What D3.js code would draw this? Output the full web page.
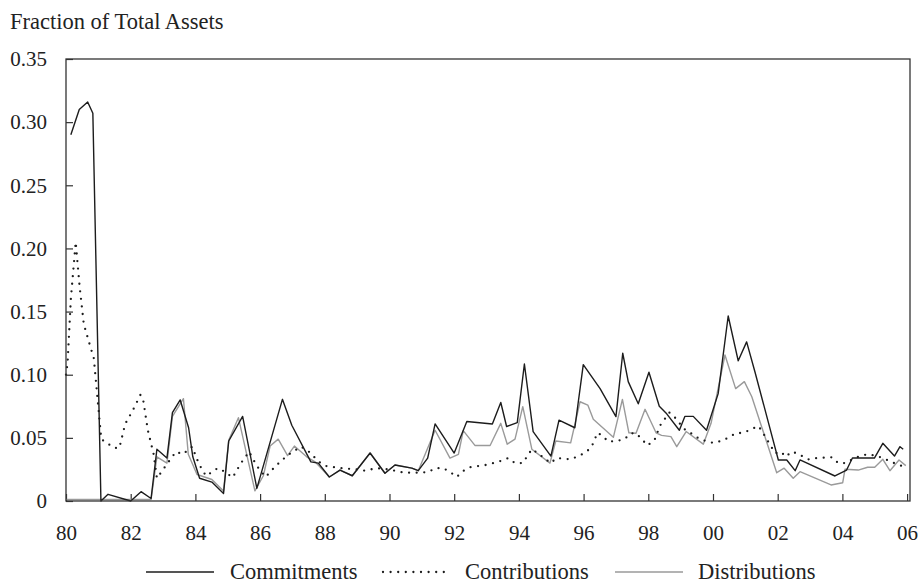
<!DOCTYPE html>
<html>
<head>
<meta charset="utf-8">
<script src="https://cdn.jsdelivr.net/npm/d3@7/dist/d3.min.js"></script>
<style>
  html, body { margin: 0; padding: 0; background: #fff; }
  svg { display: block; }
  text { font-family: "Liberation Serif", "DejaVu Serif", serif; fill: #222; }
</style>
</head>
<body>
<svg id="chart" width="921" height="585"></svg>
<script>
// Quarterly flows as a fraction of total assets (time in fractional years)
const commitmentYears = [1980.15,1980.41,1980.67,1980.83,1981.08,1981.3,1982.0,1982.32,1982.63,1982.81,1983.12,1983.29,1983.53,1983.79,1983.92,1984.13,1984.51,1984.87,1985.03,1985.46,1985.9,1986.69,1986.98,1987.57,1987.8,1988.14,1988.47,1988.85,1989.4,1989.86,1990.17,1990.69,1990.89,1991.18,1991.41,1992.0,1992.39,1993.18,1993.44,1993.62,1993.95,1994.17,1994.44,1994.99,1995.24,1995.73,1995.99,1996.51,1997.0,1997.21,1997.38,1997.69,1998.02,1998.34,1998.57,1998.96,1999.13,1999.39,1999.8,2000.16,2000.47,2000.78,2001.04,2001.3,2002.02,2002.28,2002.54,2002.69,2003.77,2004.13,2004.31,2004.99,2005.25,2005.61,2005.78,2005.88];
const commitmentValues = [0.290,0.310,0.316,0.307,0.000,0.0053,0.000,0.0074,0.002,0.041,0.034,0.070,0.080,0.058,0.035,0.018,0.015,0.006,0.0475,0.067,0.010,0.0805,0.060,0.031,0.030,0.019,0.0245,0.020,0.038,0.022,0.0285,0.026,0.024,0.034,0.061,0.038,0.063,0.061,0.078,0.059,0.062,0.1085,0.055,0.0356,0.064,0.058,0.108,0.089,0.0668,0.117,0.0945,0.077,0.102,0.075,0.069,0.056,0.067,0.067,0.056,0.085,0.1465,0.111,0.126,0.102,0.0325,0.0325,0.024,0.0325,0.0198,0.0245,0.034,0.034,0.0457,0.0356,0.043,0.041];

const contributionYears = [1980.0,1980.05,1980.15,1980.3,1980.42,1980.55,1980.72,1980.86,1981.09,1981.27,1981.5,1981.65,1981.83,1982.07,1982.3,1982.38,1982.53,1982.71,1982.81,1982.95,1983.1,1983.4,1983.61,1983.9,1984.05,1984.2,1984.33,1984.69,1984.92,1985.15,1985.41,1985.66,1985.9,1986.17,1986.48,1986.84,1987.26,1987.47,1987.82,1988.03,1988.5,1989.0,1989.24,1989.6,1989.96,1990.46,1990.97,1991.2,1991.43,1991.66,1991.87,1992.08,1992.28,1992.49,1992.97,1993.21,1993.47,1993.67,1993.88,1994.12,1994.4,1994.58,1994.98,1995.17,1995.6,1995.84,1996.07,1996.25,1996.43,1996.59,1996.76,1997.02,1997.26,1997.47,1997.62,1997.8,1997.97,1998.19,1998.36,1998.65,1998.8,1999.11,1999.32,1999.55,1999.75,2000.01,2000.25,2000.47,2000.7,2000.94,2001.2,2001.4,2001.52,2001.66,2001.92,2002.1,2002.25,2002.43,2002.59,2002.95,2003.2,2003.69,2003.87,2004.08,2004.31,2004.54,2004.78,2005.0,2005.26,2005.5,2005.75,2005.99];
const contributionValues = [0.100,0.110,0.160,0.205,0.170,0.140,0.125,0.113,0.049,0.0457,0.042,0.042,0.061,0.072,0.084,0.081,0.056,0.037,0.018,0.023,0.0285,0.039,0.037,0.043,0.033,0.025,0.0198,0.026,0.023,0.0185,0.030,0.039,0.0277,0.019,0.0277,0.036,0.043,0.040,0.031,0.0277,0.026,0.025,0.024,0.026,0.025,0.0224,0.0224,0.023,0.026,0.026,0.023,0.019,0.0238,0.0267,0.0285,0.030,0.032,0.034,0.030,0.030,0.041,0.038,0.030,0.034,0.033,0.0356,0.0385,0.043,0.054,0.0515,0.047,0.0475,0.049,0.0536,0.0536,0.049,0.044,0.048,0.0596,0.070,0.0668,0.057,0.0536,0.0497,0.0477,0.046,0.0475,0.050,0.0536,0.054,0.057,0.0594,0.055,0.049,0.0378,0.039,0.035,0.039,0.0378,0.033,0.034,0.0346,0.030,0.030,0.033,0.0356,0.037,0.036,0.034,0.031,0.0285,0.0264];

const distributionYears = [1980.0,1982.63,1982.81,1983.12,1983.29,1983.63,1983.78,1984.05,1984.51,1984.87,1985.03,1985.33,1985.84,1986.1,1986.31,1986.56,1986.85,1987.06,1987.44,1987.7,1988.14,1988.47,1988.85,1989.4,1989.86,1990.17,1990.69,1990.89,1991.41,1991.87,1992.13,1992.28,1992.64,1993.11,1993.44,1993.64,1993.88,1994.12,1994.4,1994.96,1995.14,1995.6,1995.89,1996.13,1996.3,1996.92,1997.2,1997.4,1997.62,1997.9,1998.24,1998.41,1998.7,1998.88,1999.17,1999.7,1999.94,2000.37,2000.7,2000.97,2001.2,2001.97,2002.2,2002.48,2002.69,2003.65,2004.01,2004.08,2004.49,2004.78,2005.0,2005.25,2005.47,2005.75,2005.96];
const distributionValues = [0.0012,0.0012,0.035,0.030,0.067,0.081,0.037,0.021,0.017,0.008,0.048,0.066,0.008,0.020,0.0435,0.049,0.036,0.0435,0.035,0.031,0.019,0.0245,0.020,0.038,0.022,0.0285,0.026,0.024,0.056,0.034,0.037,0.0557,0.044,0.044,0.0615,0.045,0.049,0.0747,0.041,0.030,0.0475,0.046,0.0786,0.076,0.0647,0.0504,0.0805,0.054,0.0536,0.0726,0.054,0.052,0.051,0.043,0.055,0.045,0.0615,0.1156,0.089,0.0945,0.0826,0.0224,0.026,0.018,0.0232,0.0127,0.0145,0.0251,0.0245,0.0267,0.0267,0.033,0.024,0.0325,0.028];

const xTickYears = [1980,1982,1984,1986,1988,1990,1992,1994,1996,1998,2000,2002,2004,2006];
const xTickLabels = ["80","82","84","86","88","90","92","94","96","98","00","02","04","06"];
const yTickValues = [0,0.05,0.10,0.15,0.20,0.25,0.30,0.35];
const yTickLabels = ["0","0.05","0.10","0.15","0.20","0.25","0.30","0.35"];

const seriesNames = ["Commitments","Contributions","Distributions"];

const svg = d3.select("#chart");
const plot = { left: 66, right: 910, top: 59, bottom: 501 };

const x = d3.scaleLinear().domain([1980, 2006.09]).range([plot.left, plot.right]);
const y = d3.scaleLinear().domain([0, 0.35]).range([plot.bottom, plot.top]);

const TICK_FONT = 21;
const TEXT_FONT = 22.5;

// Axis title
svg.append("text")
  .attr("x", 10).attr("y", 29)
  .style("font-size", TEXT_FONT + "px")
  .text("Fraction of Total Assets");

// Y axis with inward ticks
const yAxis = svg.append("g")
  .attr("transform", `translate(${plot.left},0)`)
  .call(d3.axisLeft(y).tickValues(yTickValues).tickSize(-7).tickPadding(19)
    .tickFormat((d, i) => yTickLabels[i]));
yAxis.select(".domain").remove();

// X axis with inward ticks
const xAxis = svg.append("g")
  .attr("transform", `translate(0,${plot.bottom})`)
  .call(d3.axisBottom(x).tickValues(xTickYears).tickSize(-7).tickPadding(24)
    .tickFormat((d, i) => xTickLabels[i]));
xAxis.select(".domain").remove();

svg.selectAll(".tick line").attr("stroke", "#333").attr("stroke-width", 1.2);
svg.selectAll(".tick text")
  .style("font-size", TICK_FONT + "px")
  .style("font-family", '"Liberation Serif", serif')
  .attr("fill", "#222");

const line = d3.line().x(d => x(d[0])).y(d => y(d[1]));
const zip = (xs, vs) => xs.map((t, i) => [t, vs[i]]);

// Distributions (gray)
svg.append("path")
  .datum(zip(distributionYears, distributionValues))
  .attr("fill", "none").attr("stroke", "#9a9a9a").attr("stroke-width", 1.4)
  .attr("stroke-linejoin", "round")
  .attr("d", line);

// Contributions (dotted)
svg.append("path")
  .datum(zip(contributionYears, contributionValues))
  .attr("fill", "none").attr("stroke", "#1c1c1c").attr("stroke-width", 2.3)
  .attr("stroke-linecap", "round").attr("stroke-dasharray", "0 7.6")
  .attr("d", line);

// Commitments (solid black)
svg.append("path")
  .datum(zip(commitmentYears, commitmentValues))
  .attr("fill", "none").attr("stroke", "#1c1c1c").attr("stroke-width", 1.4)
  .attr("stroke-linejoin", "round")
  .attr("d", line);

// Plot frame
svg.append("rect")
  .attr("x", plot.left).attr("y", plot.top)
  .attr("width", plot.right - plot.left).attr("height", plot.bottom - plot.top)
  .attr("fill", "none").attr("stroke", "#333").attr("stroke-width", 1.3);

// Legend
const legendY = 572;
const legendItems = [
  { name: seriesNames[0], x: 146, textX: 230, color: "#1c1c1c", width: 1.4, dash: null },
  { name: seriesNames[1], x: 383, textX: 465, color: "#1c1c1c", width: 2.3, dash: "0 7.6" },
  { name: seriesNames[2], x: 615, textX: 698, color: "#9a9a9a", width: 1.4, dash: null }
];
const lg = svg.append("g");
legendItems.forEach(it => {
  const l = lg.append("line")
    .attr("x1", it.x).attr("x2", it.x + 68)
    .attr("y1", legendY).attr("y2", legendY)
    .attr("stroke", it.color).attr("stroke-width", it.width);
  if (it.dash) l.attr("stroke-dasharray", it.dash).attr("stroke-linecap", "round");
  lg.append("text")
    .attr("x", it.textX).attr("y", legendY + 7)
    .style("font-size", TEXT_FONT + "px")
    .text(it.name);
});
</script>
</body>
</html>
